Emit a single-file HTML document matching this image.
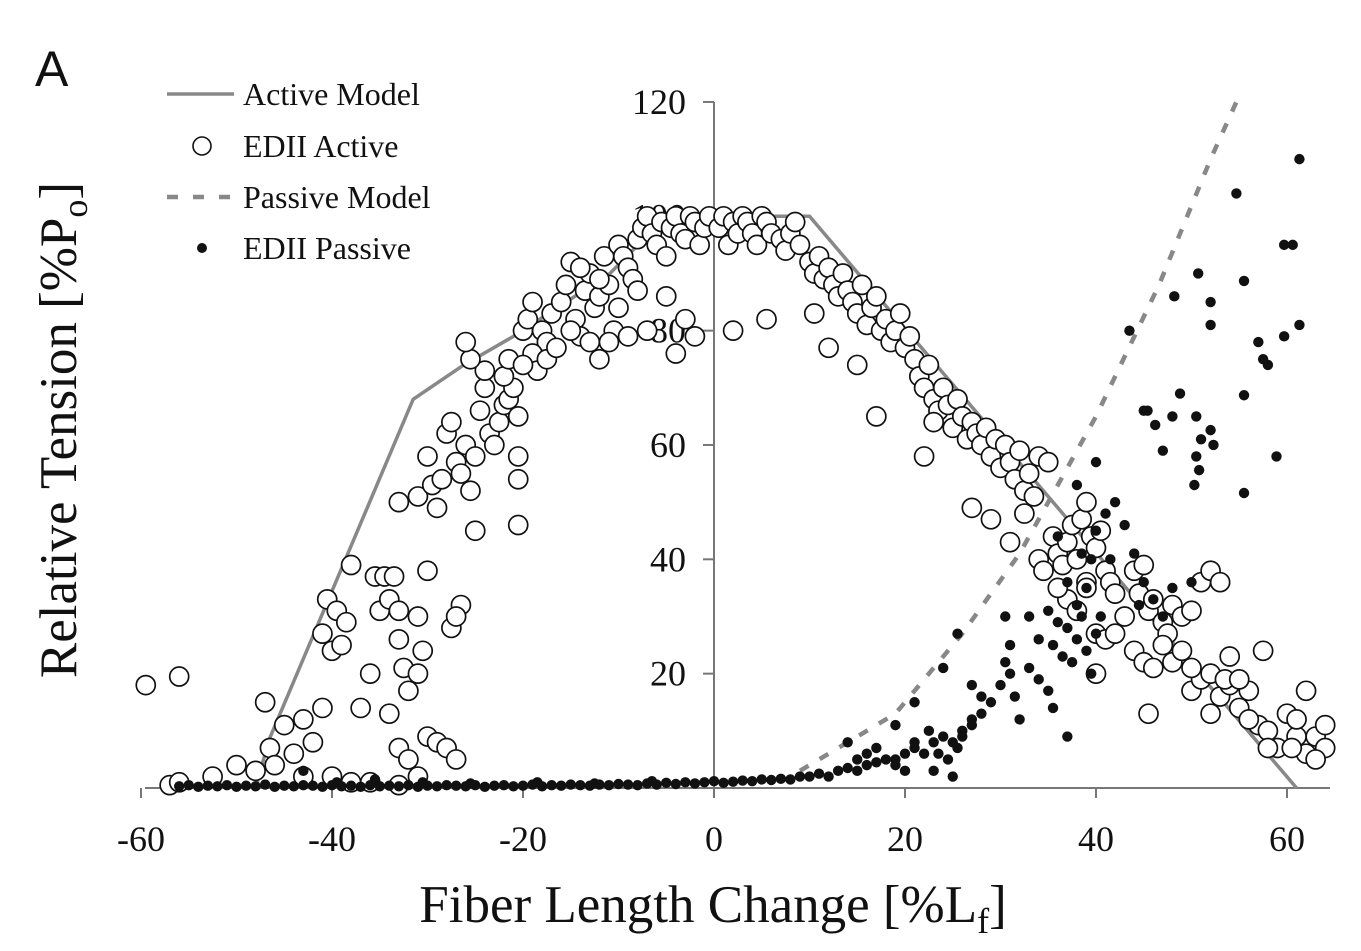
<!DOCTYPE html>
<html><head><meta charset="utf-8"><style>
body{margin:0;background:#fff}
svg{display:block}
text{font-family:"Liberation Serif",serif;fill:#111}
</style></head><body>
<svg id="chart" width="1361" height="951" viewBox="0 0 1361 951">
<text x="35" y="86" style="font-family:'Liberation Sans',sans-serif;font-size:50px">A</text>
<g id="axes"></g>
<g id="lines"></g>
<g id="pts"></g>
<g id="legend">
 <g><line x1="167" y1="94" x2="234" y2="94" stroke="#888" stroke-width="3.5"/><text x="243" y="105" font-size="32">Active Model</text></g>
 <g><circle cx="202" cy="146" r="9" fill="#fff" stroke="#111" stroke-width="1.6"/><text x="243" y="157" font-size="32">EDII Active</text></g>
 <g><line x1="167" y1="197" x2="234" y2="197" stroke="#888" stroke-width="4.5" stroke-dasharray="11,15"/><text x="243" y="208" font-size="32">Passive Model</text></g>
 <g><circle cx="202" cy="248" r="5" fill="#111"/><text x="243" y="259" font-size="32">EDII Passive</text></g>
</g>
<text x="713" y="922" text-anchor="middle" font-size="53">Fiber Length Change [%L<tspan font-size="36" dy="11">f</tspan><tspan dy="-11">]</tspan></text>
<text transform="translate(76,430) rotate(-90)" text-anchor="middle" font-size="53">Relative Tension [%P<tspan font-size="36" dy="11">o</tspan><tspan dy="-11">]</tspan></text>
</svg>
<script>
const xTicks=[-60,-40,-20,0,20,40,60];
const yTicks=[20,40,60,80,100,120];
const activeModelX=[-48,-46.6,-31.5,-26.2,-21,-10.9,-5,10,61];
const activeModelY=[0,8.4,68,74,79,90,100,100,0];
const passiveModelX=[9,13,19,26,32,40,46.6,52,54.7];
const passiveModelY=[3,7,13,27,41,65,88,110,120];
const activeX=[-59.5,-56,-57,-56,-52.5,-50,-48,-47,-46.5,-46,-45,-44,-43,-42,-41,-40.5,-41,-40,-39.5,-39,-38.5,-38,-37,-36,-35.5,-35,-34.5,-34,-33.5,-33,-33,-32.5,-32,-31,-30.5,-31,-30,-34,-33,-32,-30,-29,-28,-27,-27.5,-26.5,-27,-43,-40,-38,-36,-31,-33,
-33,-31,-30,-29.5,-29,-28.5,-28,-27.5,-27,-26.5,-26,-25.5,-25,-24.5,-24,-24,-23.5,-23,-22.5,-22,-21.5,-21,-20.5,-20.5,-20.5,-20.5,-25,-25.5,-26,-22,-21.5,-20,-19.5,-18,-17.5,-17,-16,-15.5,-15,-14.5,-14,-13.5,-13,-12.5,-12,-11.5,-11,-10.5,-10,-9.5,-9,-8.5,-8,-7.5,-7,-6.5,-6,-5.5,-5,-4.5,-4,-3.5,-3,-2.5,-2,-1.5,-1,-0.5,-19,-18.5,-17.5,-16.5,-15,-13,-12,-11,-9,-7,-4,-2,-20,-19,-14,-12,-10,-8,-5,-3,
0.5,1,1.5,2,2.5,3,3.5,4,4.5,5,5.5,6,7,7.5,8,8.5,9,10,10.5,11,11.5,12,12.5,13,13.5,14,14.5,15,15.5,16,16.5,17,17.5,18,18.5,19,19.5,20,20.5,21,21.5,22,22.5,23,23.5,24,24.5,25,25.5,26,26.5,27,27.5,28,28.5,29,29.5,30,30.5,31,31.5,32,32.5,33,33.5,34,35,2,5.5,10.5,12,15,17,22,23,27,29,31,32.5,34,34.5,35.5,36,36.5,37,37.5,38,38.5,39,39.5,40,40.5,41,41.5,42,37,38,39,40,41,42,43,44,44.5,45,45.5,46,47,47.5,48,49,50,51,52,53,44,45,46,47,48,49,50,51,52,53,54,55,56,57,58,59,60,61,62,63,64,45.5,53.5,57.5,62,54,50,55,56,60.5,63,64,61,58,52,40,39,36];
const activeY=[18,19.5,0.5,1,2,4,3,15,7,4,11,6,12,8,14,33,27,24,31,25,29,39,14,20,37,31,37,33,37,31,26,21,17,20,24,30,38,13,7,5,9,8,7,5,28,32,30,2,2,1,1,2,0.5,
50,51,58,53,49,54,62,64,57,55,60,52,58,66,70,73,62,60,64,67,68,70,65,58,54,46,45,75,78,72,75,80,82,80,78,83,85,88,92,82,79,87,90,84,86,93,88,80,95,93,91,89,96,98,100,97,95,99,93,98,100,97,96,100,99,95,98,100,76,73,75,77,80,78,75,78,79,80,76,79,74,85,91,89,84,87,86,82,
98,100,95,99,97,100,99,97,95,100,99,97,96,94,97,99,95,92,90,93,89,91,88,86,90,87,85,83,88,81,84,86,80,82,78,80,83,77,79,75,72,70,74,68,66,70,67,63,68,65,61,64,62,60,63,58,61,56,60,57,54,59,52,55,51,58,57,80,82,83,77,74,65,58,64,49,47,43,48,40,38,44,41,39,43,46,40,47,50,44,42,45,38,36,34,33,31,36,27,26,27,30,38,34,39,31,33,29,27,32,30,31,36,38,36,24,22,21,25,22,24,17,19,20,16,18,14,17,11,10,7,13,9,6,9,7,13,19,24,17,23,21,19,12,7,5,11,12,7,13,20,35,35];
const passiveX=[-56,-55,-54,-53,-52,-51,-50,-49,-48,-47,-46,-45,-44,-43,-42,-41,-40,-39,-38,-37,-36,-35,-34,-33,-32,-31,-30,-29,-28,-27,-26,-25,-24,-23,-22,-21,-20,-19,-18,-17,-16,-15,-14,-13,-12,-11,-10,-9,-8,-7,-6,-5,-4,-3,-2,-1,0,1,2,3,4,5,6,7,-43,-39.5,-35.5,-30.5,-25.5,-18.5,-12.5,-6.5,
8,9,10,11,12,13,14,15,16,17,18,19,20,21,22,23,24,25,26,27,28,29,30,31,30.5,31,28,27,26,25.5,24.5,23.5,22.5,21,17,16,15,14,19,20,23,25,27,25.5,24,21,19,30.5,31.5,32,33,34,35,35.5,36,36.5,37,37.5,38,38.5,39,39.5,40,40.5,37,33,34,35,35.5,38,39,37,38.5,39.5,40,41,42,43,44,41.5,44.5,46,45,47,48,50,36,38,40,
43.5,45,45.4,46.2,48,48.8,47,50.5,51,52,52.3,50.5,50.3,50.8,55.5,58.9,55.5,48.2,50.7,52,52,55.5,54.7,57,57.5,58,59.7,60.6,59.7,61.3,61.3];
const passiveY=[0.3,0.5,0.2,0.4,0.3,0.5,0.2,0.4,0.3,0.6,0.2,0.4,0.3,0.5,0.4,0.2,0.5,0.3,0.4,0.2,0.5,0.3,0.4,0.3,0.5,0.2,0.4,0.3,0.5,0.4,0.3,0.5,0.2,0.4,0.5,0.3,0.4,0.6,0.3,0.5,0.4,0.6,0.5,0.4,0.6,0.5,0.7,0.6,0.5,0.8,0.6,0.9,0.7,1,0.8,1,1.2,0.9,1.1,1.3,1.2,1.5,1.4,1.6,3,1,1.5,1,0.8,1,0.8,1.2,
1.5,2,2,2.5,2,3,3.5,3,4,4.5,5,5,6,7,6,8,9,8,10,11,13,15,18,20,22,25,16,12,9,7,5,6,10,8,7,6,5,8,4,3,3,2,18,27,21,15,11,30,16,12,30,26,31,25,29,23,28,22,26,30,24,20,27,30,9,21,19,17,14,32,35,36,41,40,45,48,50,46,41,40,32,33,36,30,35,36,44,53,57,
80,66,66,63.5,65,69,59,65,61,62.6,60,58,53,55.6,68.7,58,51.6,86,90,85,81,88.7,104,78,75,74,95,95,79,81,110];
const X0=714,SX=9.55,Y0=788,SY=5.717;
const xs=v=>X0+v*SX, ys=v=>Y0-v*SY;
const NS='http://www.w3.org/2000/svg';
function mk(tag,attrs,parent){const e=document.createElementNS(NS,tag);for(const k in attrs)e.setAttribute(k,attrs[k]);parent.appendChild(e);return e;}
const ax=document.getElementById('axes');
let e=mk('line',{x1:145,y1:788,x2:1330,y2:788,stroke:'#777','stroke-width':2},ax);


e=mk('line',{x1:714,y1:102,x2:714,y2:788,stroke:'#777','stroke-width':2},ax);


xTicks.forEach(t=>{
 const tk=mk('line',{x1:xs(t),y1:788,x2:xs(t),y2:798,stroke:'#777','stroke-width':2},ax);
 
 
 const tl=mk('text',{x:xs(t),y:851,'text-anchor':'middle','font-size':36},ax);tl.textContent=t;
 
 
});
yTicks.forEach(t=>{
 const tk=mk('line',{x1:703,y1:ys(t),x2:714,y2:ys(t),stroke:'#777','stroke-width':2},ax);
 
 
 const tl=mk('text',{x:686,y:ys(t)+12,'text-anchor':'end','font-size':36},ax);tl.textContent=t;
 
 
});
const ln=document.getElementById('lines');
let p=mk('polyline',{points:activeModelX.map((v,i)=>xs(v)+','+ys(activeModelY[i])).join(' '),fill:'none',stroke:'#888','stroke-width':3.5},ln);


p=mk('polyline',{points:passiveModelX.map((v,i)=>xs(v)+','+ys(passiveModelY[i])).join(' '),fill:'none',stroke:'#888','stroke-width':4.5,'stroke-dasharray':'10,13'},ln);


const pg=document.getElementById('pts');
activeX.forEach((v,i)=>{
 const c=mk('circle',{cx:xs(v),cy:ys(activeY[i]),r:9.5,fill:'#fff',stroke:'#111','stroke-width':1.7},pg);
 
 
});
passiveX.forEach((v,i)=>{
 const c=mk('circle',{cx:xs(v),cy:ys(passiveY[i]),r:5.2,fill:'#111'},pg);
 
 
});
</script>
</body></html>
